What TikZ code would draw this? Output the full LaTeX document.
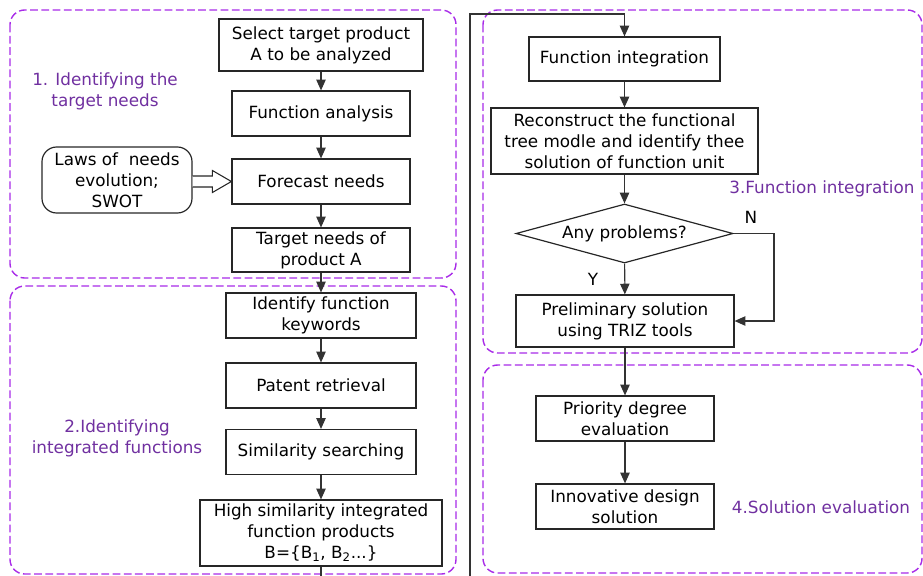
\documentclass[tikz,border=0pt]{standalone}
\usepackage{fontspec}
\setmainfont{DejaVu Sans}
\usetikzlibrary{arrows.meta,shapes.geometric,calc}
\definecolor{regline}{HTML}{A82BE8}
\definecolor{regtext}{HTML}{7030A0}
\begin{document}
\begin{tikzpicture}[x=0.75pt,y=-0.75pt,
  every node/.style={font=\fontsize{12.6}{15.6}\selectfont},
  stepbox/.style={draw=black!85,line width=0.9pt,rectangle,inner sep=0pt,align=center},
  region/.style={draw=regline,line width=1.05pt,dash pattern=on 5.8pt off 2.6pt,rounded corners=11pt},
  regionlabel/.style={text=regtext,align=center,inner sep=0pt},
  flow/.style={draw=black!80,line width=0.8pt,-{Triangle[length=8pt,width=7pt]}},
  yn/.style={inner sep=0pt}]
\useasboundingbox (0,0) rectangle (923,575);

% regions
\draw[region] (10,10) rectangle (456,278);
\draw[region] (10,286) rectangle (456,574);
\draw[region] (483,10) rectangle (922,353);
\draw[region] (483,365) rectangle (922,573);

\node[regionlabel] (l1) at (105,91) {1. Identifying the\\target needs};
\node[regionlabel] (l2) at (117,438) {2.Identifying\\integrated functions};
\node[regionlabel] (l3) at (822,189) {3.Function integration};
\node[regionlabel] (l4) at (821,507) {4.Solution evaluation};

% left column
\node[stepbox,minimum width=153pt,minimum height=39pt] (sel) at (321,45) {Select target product\\A to be analyzed};
\node[stepbox,minimum width=133.5pt,minimum height=33.75pt] (fa) at (321,113.5) {Function analysis};
\node[stepbox,minimum width=133.5pt,minimum height=33.75pt] (fc) at (321,181.5) {Forecast needs};
\node[stepbox,minimum width=133.5pt,minimum height=33pt] (tn) at (321,250) {Target needs of\\product A};
\node[stepbox,rounded corners=11pt,minimum width=112.5pt,minimum height=49.5pt] (laws) at (117,180) {Laws of\ \ needs\\evolution;\\SWOT};

\node[stepbox,minimum width=142.5pt,minimum height=33.75pt] (ifk) at (321,315.5) {Identify function\\keywords};
\node[stepbox,minimum width=142.5pt,minimum height=33.75pt] (pr) at (321,385.5) {Patent retrieval};
\node[stepbox,minimum width=142.5pt,minimum height=33.75pt] (ss) at (321,452) {Similarity searching};
\node[stepbox,minimum width=181.5pt,minimum height=49.5pt] (hs) at (321,533) {High similarity integrated\\function products\\B=\{B\textsubscript{1},\ B\textsubscript{2}...\}};

% right column
\node[stepbox,minimum width=143.25pt,minimum height=33pt] (fi) at (624.5,59) {Function integration};
\node[stepbox,minimum width=200.25pt,minimum height=49.5pt] (rec) at (624.5,141) {Reconstruct the functional\\tree modle and identify thee\\solution of function unit};
\node[draw=black!85,line width=0.9pt,diamond,inner sep=0pt,aspect=3.68,minimum width=162.75pt,minimum height=44.25pt] (dia) at (624.5,233.5) {Any problems?};
\node[stepbox,minimum width=163.5pt,minimum height=39pt] (pre) at (625,321) {Preliminary solution\\using TRIZ tools};
\node[stepbox,minimum width=133.5pt,minimum height=33.75pt] (pde) at (625,418.5) {Priority degree\\evaluation};
\node[stepbox,minimum width=133.5pt,minimum height=33.75pt] (ids) at (625,506.5) {Innovative design\\solution};

\node[yn] (nlab) at (751,217) {N};
\node[yn] (ylab) at (593,279) {Y};

% connectors
\draw[flow] (sel) -- (fa);
\draw[flow] (fa) -- (fc);
\draw[flow] (fc) -- (tn);
\draw[flow] (tn) -- (ifk);
\draw[flow] (ifk) -- (pr);
\draw[flow] (pr) -- (ss);
\draw[flow] (ss) -- (hs);
\draw[flow] (fi) -- (rec);
\draw[flow] (rec) -- (dia);
\draw[flow] (dia) -- (pre);
\draw[flow] (pre) -- (pde);
\draw[flow] (pde) -- (ids);
\coordinate (nc) at (774,233.5);
\draw[flow] (dia.east) -- (nc) -- (nc |- pre.east) -- (pre.east);

% loop from products B back to function integration
\begin{scope}
\clip (0,0) rectangle (923,575);
\coordinate (lb) at (470,590);
\coordinate (lt) at (470,14);
\draw[flow] (hs.south) -- (hs.south |- lb) -- (lb) -- (lt) -- (lt -| fi.north) -- (fi.north);
\end{scope}

% hollow arrow from laws to forecast
\draw[black!85,line width=0.8pt,fill=white]
  (laws.east |- {$(fc.west)+(0,-5.5)$}) -- ($(fc.west)+(-19,-5.5)$) -- ($(fc.west)+(-19,-11)$)
  -- (fc.west) -- ($(fc.west)+(-19,11)$) -- ($(fc.west)+(-19,5.5)$) -- (laws.east |- {$(fc.west)+(0,5.5)$});
\end{tikzpicture}
\end{document}
